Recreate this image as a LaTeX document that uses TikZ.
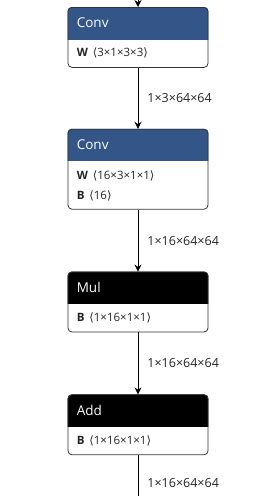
\documentclass[tikz,border=0pt]{standalone}
\usepackage{fontspec}
\setmainfont{Open Sans}
\newfontfamily\symfont{DejaVu Sans}
\usetikzlibrary{positioning,arrows.meta,backgrounds}

\definecolor{convblue}{HTML}{335588}
\definecolor{boxline}{HTML}{333333}

% shape in angle brackets
\newcommand{\shp}[1]{{\symfont ⟨}#1{\symfont ⟩}}
% coloured header of an op box
\newcommand{\opheader}[2]{%
  \begin{pgfonlayer}{background}
    \begin{scope}
      \clip (#1.north west) rectangle ([yshift=-32pt]#1.north east);
      \fill[#2, rounded corners=4pt] (#1.north west) rectangle (#1.south east);
    \end{scope}
  \end{pgfonlayer}}

\tikzset{
  opbox/.style={draw=boxline, line width=0.8pt, rounded corners=4pt,
    minimum width=140pt, inner sep=0pt, anchor=north},
  optitle/.style={anchor=west, inner sep=0pt, text=white,
    font=\fontsize{13.5}{16}\selectfont},
  opattr/.style={anchor=west, inner sep=0pt, text=black!85,
    font=\fontsize{11.5}{14}\selectfont},
  edgelabel/.style={anchor=west, inner sep=0pt, xshift=9pt, text=black!85,
    font=\fontsize{12.5}{15}\selectfont},
  flow/.style={-{Stealth[length=7pt,width=7pt]}, line width=0.8pt}
}

\begin{document}
\begin{tikzpicture}[x=1pt,y=-1pt,node distance=62pt]
  \useasboundingbox (0,0) rectangle (278,496);

  % ops
  \node[opbox, minimum height=60pt] (conv1) at (138,7) {};
  \node[opbox, minimum height=80pt, below=61pt of conv1] (conv2) {};
  \node[opbox, minimum height=60pt, below=of conv2] (mul) {};
  \node[opbox, minimum height=60pt, below=of mul] (add) {};

  \opheader{conv1}{convblue}
  \opheader{conv2}{convblue}
  \opheader{mul}{black}
  \opheader{add}{black}

  \node[optitle] (conv1-title) at ([xshift=9pt,yshift=-16pt]conv1.north west) {Conv};
  \node[opattr] (conv1-w) at ([xshift=9pt,yshift=-46pt]conv1.north west)
    {\textbf{W}\, \shp{3×1×3×3}};

  \node[optitle] (conv2-title) at ([xshift=9pt,yshift=-16pt]conv2.north west) {Conv};
  \node[opattr] (conv2-w) at ([xshift=9pt,yshift=-47pt]conv2.north west)
    {\textbf{W}\, \shp{16×3×1×1}};
  \node[opattr] (conv2-b) at ([xshift=9pt,yshift=-67pt]conv2.north west)
    {\textbf{B}\, \shp{16}};

  \node[optitle] (mul-title) at ([xshift=9pt,yshift=-16pt]mul.north west) {Mul};
  \node[opattr] (mul-b) at ([xshift=9pt,yshift=-46pt]mul.north west)
    {\textbf{B}\, \shp{1×16×1×1}};

  \node[optitle] (add-title) at ([xshift=9pt,yshift=-16pt]add.north west) {Add};
  \node[opattr] (add-b) at ([xshift=9pt,yshift=-46pt]add.north west)
    {\textbf{B}\, \shp{1×16×1×1}};

  % edges
  \coordinate (in) at (138,0);
  \coordinate (out) at (138,496);
  \draw[flow] (in) -- (conv1);
  \draw[flow] (conv1) -- node[edgelabel] {1×3×64×64} (conv2);
  \draw[flow] (conv2) -- node[edgelabel] {1×16×64×64} (mul);
  \draw[flow] (mul) -- node[edgelabel] {1×16×64×64} (add);
  \draw[line width=0.8pt] (add) -- node[edgelabel, pos=0.68] {1×16×64×64} (out);
\end{tikzpicture}
\end{document}
